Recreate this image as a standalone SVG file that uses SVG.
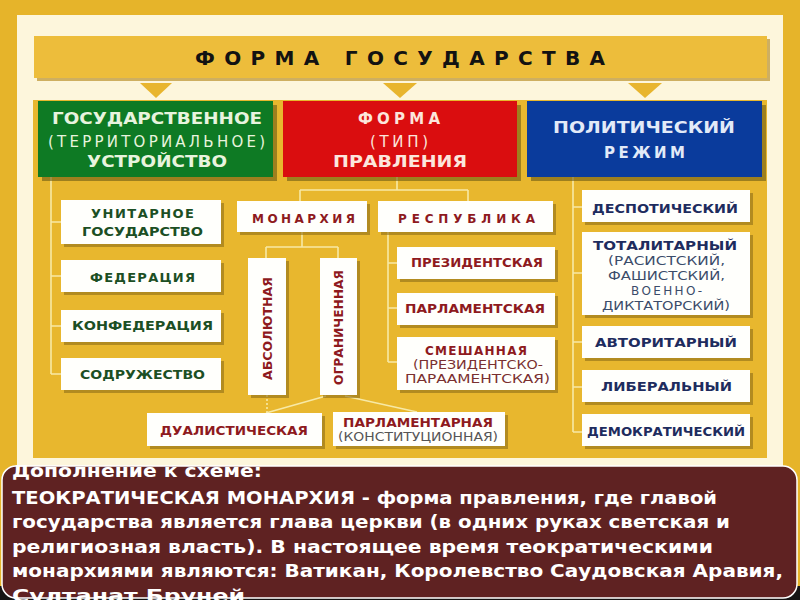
<svg xmlns="http://www.w3.org/2000/svg" width="800" height="600" viewBox="0 0 800 600">
<style>
.t{font-family:"DejaVu Sans","Liberation Sans",sans-serif;font-weight:bold}
.n{font-family:"DejaVu Sans","Liberation Sans",sans-serif;font-weight:normal}
.sh{fill:#8E6E18;opacity:.6}
.wb{fill:#FFFFFC}
.g{fill:#1C4F24;font-size:13px}
.r{fill:#8E1A1E;font-size:12px}
.b{fill:#1E2C5E;font-size:12px}
.hd{font-size:15px}
.ln{stroke:#F7E9A6;stroke-width:1.6;fill:none}
.note{fill:#FFFFFF;font-size:17px}
</style>
<defs>
<clipPath id="nc"><rect x="0" y="465" width="800" height="135"/></clipPath>
</defs>
<!-- background -->
<rect x="0" y="0" width="800" height="600" fill="#E6B42A"/>
<rect x="17" y="15" width="766" height="452" fill="#FDF6DC"/>
<rect x="33" y="100" width="734" height="358" fill="#E8B72E"/>

<g id="title">
<rect x="37" y="39" width="733" height="42" fill="#B9922C" opacity=".7"/>
<rect x="34" y="36" width="733" height="42" fill="#EDBD3B"/>
<text class="t" x="195" y="65" font-size="20" fill="#121212" textLength="410" lengthAdjust="spacing">ФОРМА ГОСУДАРСТВА</text>
</g>
<g id="arrows" fill="#E8B52E">
<polygon points="140,83 172,83 156,98"/>
<polygon points="383,83 417,83 400,98"/>
<polygon points="628,83 662,83 645,98"/>
</g>

<g id="connectors" class="ln">
<path d="M51 177V374M51 222H61M51 276H61M51 326H61M51 374H61"/>
<path d="M397 177V190M300 190H468M300 190V201M468 190V201"/>
<path d="M302 232V247M266 247H338M266 247V258M338 247V258"/>
<path d="M388 232V362M388 263H397M388 308H397M388 362H397"/>
<path d="M326 396L266 413M345 396L417 412"/>
<path d="M267 395V413" stroke-dasharray="2 2"/>
<path d="M573 177V432M573 207H582M573 273H582M573 342H582M573 387H582M573 432H582"/>
</g>

<g id="n-gos">
<rect x="42" y="105" width="235" height="76" fill="#6B5A14" opacity=".6"/>
<rect x="38" y="101" width="235" height="76" fill="#0E7A24"/>
<text class="t hd" x="52" y="124" fill="#E8F4DE" textLength="210" lengthAdjust="spacingAndGlyphs">ГОСУДАРСТВЕННОЕ</text>
<text class="n hd" x="48" y="147" fill="#E8F4DE" textLength="217" lengthAdjust="spacing">(ТЕРРИТОРИАЛЬНОЕ)</text>
<text class="t hd" x="87" y="167" fill="#E8F4DE" textLength="140" lengthAdjust="spacingAndGlyphs">УСТРОЙСТВО</text>
</g>
<g id="n-forma">
<rect x="287" y="105" width="234" height="76" fill="#6B5A14" opacity=".6"/>
<rect x="283" y="101" width="234" height="76" fill="#DA0D0F"/>
<text class="t hd" x="358" y="124" fill="#FCE6DC" textLength="82" lengthAdjust="spacing">ФОРМА</text>
<text class="n hd" x="370" y="147" fill="#FCE6DC" textLength="58" lengthAdjust="spacing">(ТИП)</text>
<text class="t hd" x="333" y="167" fill="#FCE6DC" textLength="134" lengthAdjust="spacingAndGlyphs">ПРАВЛЕНИЯ</text>
</g>
<g id="n-rezhim">
<rect x="531" y="105" width="235" height="76" fill="#6B5A14" opacity=".6"/>
<rect x="527" y="101" width="235" height="76" fill="#0A3B9C"/>
<text class="t hd" x="553" y="133" fill="#E2EAF8" textLength="182" lengthAdjust="spacingAndGlyphs">ПОЛИТИЧЕСКИЙ</text>
<text class="t hd" x="604" y="158" fill="#E2EAF8" textLength="81" lengthAdjust="spacing">РЕЖИМ</text>
</g>

<g id="n-unitar">
<rect class="sh" x="64" y="203" width="160" height="44"/>
<rect class="wb" x="61" y="200" width="160" height="44"/>
<text class="t g" x="91" y="218" textLength="103" lengthAdjust="spacing">УНИТАРНОЕ</text>
<text class="t g" x="82" y="236" textLength="121" lengthAdjust="spacingAndGlyphs">ГОСУДАРСТВО</text>
</g>
<g id="n-feder">
<rect class="sh" x="64" y="263" width="160" height="32"/>
<rect class="wb" x="61" y="260" width="160" height="32"/>
<text class="t g" x="90" y="282" textLength="105" lengthAdjust="spacing">ФЕДЕРАЦИЯ</text>
</g>
<g id="n-konfed">
<rect class="sh" x="64" y="313" width="160" height="32"/>
<rect class="wb" x="61" y="310" width="160" height="32"/>
<text class="t g" x="72" y="330" textLength="141" lengthAdjust="spacingAndGlyphs">КОНФЕДЕРАЦИЯ</text>
</g>
<g id="n-sodr">
<rect class="sh" x="64" y="361" width="160" height="32"/>
<rect class="wb" x="61" y="358" width="160" height="32"/>
<text class="t g" x="80" y="379" textLength="125" lengthAdjust="spacingAndGlyphs">СОДРУЖЕСТВО</text>
</g>

<g id="n-monarh">
<rect class="sh" x="240" y="204" width="130" height="31"/>
<rect class="wb" x="237" y="201" width="130" height="31"/>
<text class="t r" x="252" y="223" textLength="103" lengthAdjust="spacing">МОНАРХИЯ</text>
</g>
<g id="n-resp">
<rect class="sh" x="381" y="204" width="175" height="31"/>
<rect class="wb" x="378" y="201" width="175" height="31"/>
<text class="t r" x="398" y="223" textLength="137" lengthAdjust="spacing">РЕСПУБЛИКА</text>
</g>
<g id="n-abs">
<rect class="sh" x="251" y="261" width="38" height="137"/>
<rect class="wb" x="248" y="258" width="38" height="137"/>
<text class="t r" transform="translate(271.5 380) rotate(-90)" x="0" y="0" textLength="103" lengthAdjust="spacingAndGlyphs">АБСОЛЮТНАЯ</text>
</g>
<g id="n-ogr">
<rect class="sh" x="323" y="261" width="37" height="137"/>
<rect class="wb" x="320" y="258" width="37" height="137"/>
<text class="t r" transform="translate(342.5 385) rotate(-90)" x="0" y="0" textLength="115" lengthAdjust="spacingAndGlyphs">ОГРАНИЧЕННАЯ</text>
</g>
<g id="n-prez">
<rect class="sh" x="400" y="250" width="158" height="32"/>
<rect class="wb" x="397" y="247" width="158" height="32"/>
<text class="t r" x="411" y="267" textLength="132" lengthAdjust="spacingAndGlyphs">ПРЕЗИДЕНТСКАЯ</text>
</g>
<g id="n-parl">
<rect class="sh" x="400" y="296" width="158" height="32"/>
<rect class="wb" x="397" y="293" width="158" height="32"/>
<text class="t r" x="405" y="313" textLength="140" lengthAdjust="spacingAndGlyphs">ПАРЛАМЕНТСКАЯ</text>
</g>
<g id="n-smesh">
<rect class="sh" x="400" y="340" width="158" height="53"/>
<rect class="wb" x="397" y="337" width="158" height="53"/>
<text class="t r" x="425" y="355" textLength="102" lengthAdjust="spacing">СМЕШАННАЯ</text>
<text class="n" x="413" y="369" font-size="12" fill="#7A3030" textLength="130" lengthAdjust="spacingAndGlyphs">(ПРЕЗИДЕНТСКО-</text>
<text class="n" x="405" y="383" font-size="12" fill="#7A3030" textLength="145" lengthAdjust="spacingAndGlyphs">ПАРААМЕНТСКАЯ)</text>
</g>
<g id="n-dual">
<rect class="sh" x="150" y="416" width="175" height="33"/>
<rect class="wb" x="147" y="413" width="175" height="33"/>
<text class="t r" x="160" y="435" textLength="148" lengthAdjust="spacingAndGlyphs">ДУАЛИСТИЧЕСКАЯ</text>
</g>
<g id="n-parlam">
<rect class="sh" x="336" y="415" width="172" height="34"/>
<rect class="wb" x="333" y="412" width="172" height="34"/>
<text class="t r" x="343" y="427" textLength="150" lengthAdjust="spacingAndGlyphs">ПАРЛАМЕНТАРНАЯ</text>
<text class="n" x="338" y="441" font-size="12" fill="#555555" textLength="160" lengthAdjust="spacingAndGlyphs">(КОНСТИТУЦИОННАЯ)</text>
</g>

<g id="n-desp">
<rect class="sh" x="585" y="193" width="168" height="32"/>
<rect class="wb" x="582" y="190" width="168" height="32"/>
<text class="t b" x="592" y="213" textLength="146" lengthAdjust="spacingAndGlyphs">ДЕСПОТИЧЕСКИЙ</text>
</g>
<g id="n-total">
<rect class="sh" x="585" y="235" width="168" height="83"/>
<rect class="wb" x="582" y="232" width="168" height="83"/>
<text class="t b" x="593" y="250" font-size="13" textLength="144" lengthAdjust="spacingAndGlyphs">ТОТАЛИТАРНЫЙ</text>
<text class="n" x="608" y="265" font-size="12" fill="#3B4C6A" textLength="117" lengthAdjust="spacingAndGlyphs">(РАСИСТСКИЙ,</text>
<text class="n" x="608" y="280" font-size="12" fill="#3B4C6A" textLength="117" lengthAdjust="spacingAndGlyphs">ФАШИСТСКИЙ,</text>
<text class="n" x="631" y="295" font-size="12" fill="#3B4C6A" textLength="71" lengthAdjust="spacing">ВОЕННО-</text>
<text class="n" x="602" y="310" font-size="12" fill="#3B4C6A" textLength="128" lengthAdjust="spacingAndGlyphs">ДИКТАТОРСКИЙ)</text>
</g>
<g id="n-avtor">
<rect class="sh" x="585" y="329" width="168" height="32"/>
<rect class="wb" x="582" y="326" width="168" height="32"/>
<text class="t b" x="595" y="347" font-size="13" textLength="142" lengthAdjust="spacingAndGlyphs">АВТОРИТАРНЫЙ</text>
</g>
<g id="n-liber">
<rect class="sh" x="585" y="373" width="168" height="32"/>
<rect class="wb" x="582" y="370" width="168" height="32"/>
<text class="t b" x="601" y="391" textLength="131" lengthAdjust="spacingAndGlyphs">ЛИБЕРАЛЬНЫЙ</text>
</g>
<g id="n-demokr">
<rect class="sh" x="585" y="417" width="168" height="32"/>
<rect class="wb" x="582" y="414" width="168" height="32"/>
<text class="t b" x="587" y="436" textLength="158" lengthAdjust="spacingAndGlyphs">ДЕМОКРАТИЧЕСКИЙ</text>
</g>

<g id="note">
<rect x="0" y="586" width="800" height="14" fill="#151515"/>
<rect x="2" y="466" width="795" height="132" rx="14" fill="#5F2222" stroke="#FFFFFF" stroke-width="1.5"/>
<g clip-path="url(#nc)" class="t note">
<text x="12" y="477" textLength="250" lengthAdjust="spacingAndGlyphs">Дополнение к схеме:</text>
<text x="12" y="504" textLength="705" lengthAdjust="spacingAndGlyphs">ТЕОКРАТИЧЕСКАЯ МОНАРХИЯ - форма правления, где главой</text>
<text x="12" y="528" textLength="718" lengthAdjust="spacingAndGlyphs">государства является глава церкви (в одних руках светская и</text>
<text x="12" y="553" textLength="701" lengthAdjust="spacingAndGlyphs">религиозная власть).  В настоящее время теократическими</text>
<text x="12" y="577" textLength="771" lengthAdjust="spacingAndGlyphs">монархиями являются: Ватикан, Королевство Саудовская Аравия,</text>
<text x="12" y="602" textLength="233" lengthAdjust="spacingAndGlyphs">Султанат Бруней</text>
</g>
</g>
</svg>
